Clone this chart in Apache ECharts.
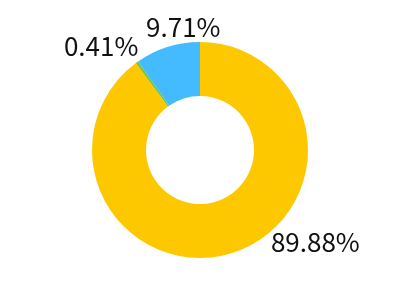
<!DOCTYPE html>
<html><head><meta charset="utf-8">
<script src="https://cdn.jsdelivr.net/npm/echarts@6/dist/echarts.min.js"></script>
<style>html,body{margin:0;padding:0;background:#fff}#c{width:400px;height:300px}</style>
</head><body><div id="c"></div>
<script>
const categories = ['A', 'B', 'C'];
const values = [89.88, 0.41, 9.71];
const colors = ['#FDC800', '#7CC52E', '#45BBFF'];
const labelShift = [[19, -20], [32, -19], [71, -10]];

const chart = echarts.init(document.getElementById('c'), null, {renderer: 'canvas'});
chart.setOption({
  animation: false,
  series: [{
    type: 'pie',
    center: ['50%', '50%'],
    radius: ['36%', '72%'],
    startAngle: 90,
    clockwise: true,
    data: categories.map((n, i) => ({name: n, value: values[i], itemStyle: {color: colors[i]}})),
    label: {
      show: true,
      position: 'outside',
      formatter: p => p.value.toFixed(2) + '%',
      fontFamily: 'Noto Sans CJK SC',
      fontSize: 26,
      color: '#111'
    },
    labelLine: {show: false, length: 10, length2: 10},
    labelLayout: p => ({dx: labelShift[p.dataIndex][0], dy: labelShift[p.dataIndex][1]})
  }]
});
</script></body></html>
